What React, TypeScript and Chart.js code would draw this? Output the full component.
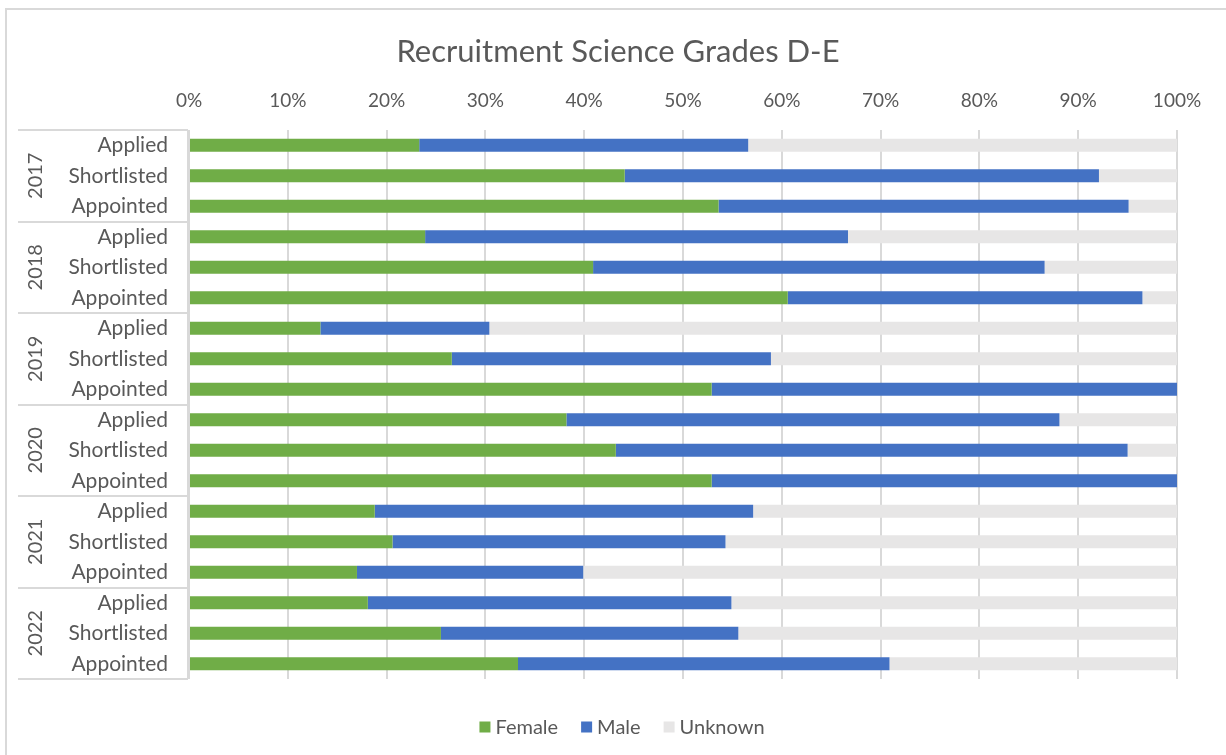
import React, { useEffect, useRef } from "react";
import { Chart, registerables } from "chart.js";

Chart.register(...registerables);

const years = ["2017", "2018", "2019", "2020", "2021", "2022"];
const stages = ["Applied", "Shortlisted", "Appointed"];

const female = [23.3, 44.1, 53.6, 23.9, 40.9, 60.6, 13.3, 26.6, 52.9, 38.2, 43.2, 52.9, 18.8, 20.6, 17.0, 18.1, 25.5, 33.3];
const male = [33.3, 48.0, 41.5, 42.8, 45.7, 35.9, 17.1, 32.3, 47.1, 49.9, 51.8, 47.1, 38.3, 33.7, 22.9, 36.8, 30.1, 37.6];
const unknown = [43.4, 7.9, 4.9, 33.3, 13.4, 3.5, 69.6, 41.1, 0, 11.9, 5.0, 0, 42.9, 45.7, 60.1, 45.1, 44.4, 29.1];

const xTicks = [0, 10, 20, 30, 40, 50, 60, 70, 80, 90, 100];

const TITLE = "Recruitment Science Grades D-E";
const FONT = "Lato, 'Open Sans', sans-serif";
const TEXT = "#595959";
const LINE = "#d9d9d9";
const COLORS = { Female: "#70AD47", Male: "#4472C4", Unknown: "#E7E6E6" };

const decorPlugin = {
  id: "decor",
  beforeDraw(chart: any) {
    const ctx = chart.ctx;
    ctx.save();
    ctx.fillStyle = "#ffffff";
    ctx.fillRect(0, 0, chart.width, chart.height);
    // outer chart border
    ctx.strokeStyle = LINE;
    ctx.lineWidth = 2;
    ctx.strokeRect(6, 9, chart.width + 20, chart.height + 20);
    // title
    ctx.fillStyle = TEXT;
    ctx.font = `31px ${FONT}`;
    ctx.textAlign = "center";
    ctx.textBaseline = "alphabetic";
    ctx.fillText(TITLE, 618, 62);
    // legend
    ctx.font = `20px ${FONT}`;
    const items = chart.data.datasets.map((d: any) => ({ label: d.label, color: d.backgroundColor }));
    const box = 11, gapText = 5, gapItem = 23;
    const widths = items.map((it: any) => box + gapText + ctx.measureText(it.label).width);
    const total = widths.reduce((a: number, b: number) => a + b, 0) + gapItem * (items.length - 1);
    let x = 622 - total / 2;
    const cy = 727;
    ctx.textAlign = "left";
    ctx.textBaseline = "middle";
    items.forEach((it: any, i: number) => {
      ctx.fillStyle = it.color;
      ctx.fillRect(x, cy - box / 2, box, box);
      ctx.fillStyle = TEXT;
      ctx.fillText(it.label, x + box + gapText, cy + 1);
      x += widths[i] + gapItem;
    });
    ctx.restore();
  },
  afterDraw(chart: any) {
    const ctx = chart.ctx;
    const area = chart.chartArea;
    const yScale = chart.scales.y;
    const left = 18;
    const right = area.left - 1;
    ctx.save();
    ctx.strokeStyle = LINE;
    ctx.lineWidth = 2;
    // vertical axis line
    ctx.beginPath();
    ctx.moveTo(right, area.top);
    ctx.lineTo(right, area.bottom);
    ctx.stroke();
    const n = stages.length;
    const bounds: number[] = [area.top];
    for (let g = 1; g < years.length; g++) {
      const a = yScale.getPixelForValue(g * n - 1);
      const b = yScale.getPixelForValue(g * n);
      bounds.push((a + b) / 2);
    }
    bounds.push(area.bottom);
    bounds.forEach((yy) => {
      ctx.beginPath();
      ctx.moveTo(left, Math.round(yy));
      ctx.lineTo(right, Math.round(yy));
      ctx.stroke();
    });
    ctx.fillStyle = TEXT;
    ctx.font = `20px ${FONT}`;
    ctx.textAlign = "center";
    ctx.textBaseline = "middle";
    years.forEach((yr, g) => {
      const cy = (bounds[g] + bounds[g + 1]) / 2;
      ctx.save();
      ctx.translate(36, cy);
      ctx.rotate(-Math.PI / 2);
      ctx.fillText(yr, 0, 0);
      ctx.restore();
    });
    ctx.restore();
  },
};

export default function App() {
  const ref = useRef<HTMLCanvasElement | null>(null);
  useEffect(() => {
    document.body.style.margin = "0";
    const labels = years.flatMap(() => stages);
    const chart = new Chart(ref.current as HTMLCanvasElement, {
      type: "bar",
      data: {
        labels,
        datasets: [
          { label: "Female", data: female, backgroundColor: COLORS.Female },
          { label: "Male", data: male, backgroundColor: COLORS.Male },
          { label: "Unknown", data: unknown, backgroundColor: COLORS.Unknown },
        ],
      },
      options: {
        indexAxis: "y",
        animation: false,
        responsive: false,
        events: [],
        layout: { padding: { left: 0, top: 0, right: 49, bottom: 76 } },
        datasets: { bar: { categoryPercentage: 1, barPercentage: 0.43, borderWidth: 0 } },
        plugins: { legend: { display: false }, title: { display: false }, tooltip: { enabled: false } },
        scales: {
          x: {
            position: "top",
            stacked: true,
            min: 0,
            max: 100,
            afterFit(scale: any) { scale.height = 130; },
            afterBuildTicks(scale: any) { scale.ticks = xTicks.map((v) => ({ value: v })); },
            ticks: {
              padding: 18,
              color: TEXT,
              font: { family: FONT, size: 19 },
              callback: (v: any) => `${v}%`,
            },
            grid: { color: LINE, lineWidth: 2, drawTicks: false },
            border: { display: false },
          },
          y: {
            stacked: true,
            afterFit(scale: any) { scale.width = 189; },
            ticks: { padding: 21, color: TEXT, font: { family: FONT, size: 21 }, autoSkip: false },
            grid: { display: false, drawTicks: false },
            border: { display: false },
          },
        },
      },
      plugins: [decorPlugin],
    } as any);
    return () => chart.destroy();
  }, []);
  return (
    <div style={{ width: 1226, height: 755 }}>
      <canvas ref={ref} width={1226} height={755} />
    </div>
  );
}
